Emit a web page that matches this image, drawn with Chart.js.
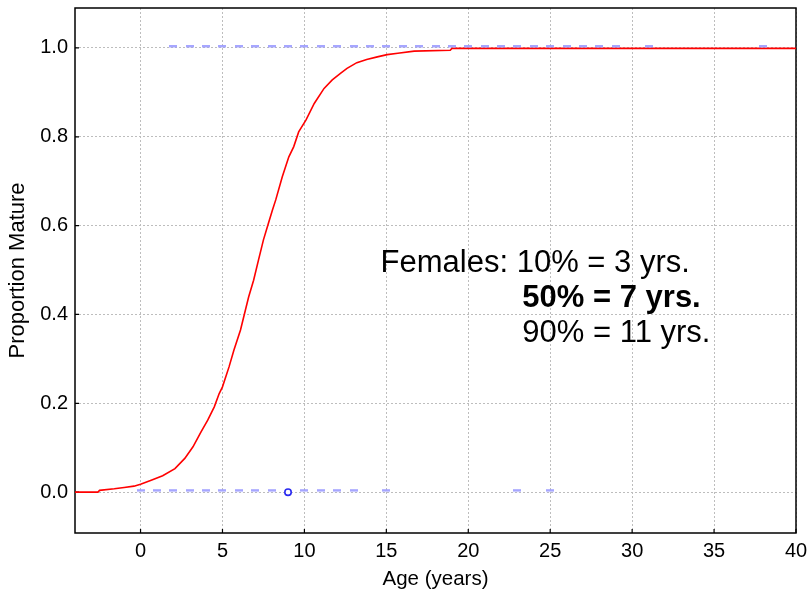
<!DOCTYPE html>
<html>
<head>
<meta charset="utf-8">
<script src="https://cdn.jsdelivr.net/npm/chart.js@4/dist/chart.umd.min.js"></script>
<style>
  html, body { margin: 0; padding: 0; background: #fff; }
  #wrap { width: 808px; height: 596px; }
</style>
</head>
<body>
<div id="wrap"><canvas id="c" width="808" height="596"></canvas></div>
<script>
// Fitted maturity curve (age in years, proportion mature)
const curveAge = [-4, -3, -2.6, -2.5, -1.6, -1.0, -0.4, 0, 0.65, 1.35, 2.1, 2.7, 3.2, 3.7, 4.1, 4.5, 4.8, 5.0,
  5.4, 5.7, 6.1, 6.4, 6.6, 6.9, 7.2, 7.5, 7.8, 8.05, 8.25, 8.65, 9.05, 9.35, 9.65, 10.1, 10.6, 11.2, 11.7,
  12.2, 12.6, 13.2, 13.8, 14.45, 15.05, 15.7, 16.7, 18.9, 19.0, 40];
const curveProp = [0, 0, 0, 0.004, 0.0075, 0.0105, 0.0135, 0.018, 0.027, 0.037, 0.053, 0.076, 0.102, 0.136,
  0.162, 0.192, 0.222, 0.237, 0.282, 0.32, 0.365, 0.41, 0.44, 0.477, 0.523, 0.568, 0.605, 0.635, 0.658,
  0.71, 0.755, 0.778, 0.811, 0.838, 0.875, 0.909, 0.928, 0.943, 0.954, 0.967, 0.974, 0.98, 0.985, 0.988,
  0.993, 0.995, 0.999, 0.999];

// Observed fish: ages of mature (1) and immature (0) individuals
const matureAges = [2, 3, 4, 5, 6, 7, 8, 9, 10, 11, 12, 13, 14, 15, 16, 17, 18, 19, 20, 21, 22, 23, 24, 25,
  26, 27, 28, 29, 31, 38];
const immatureAges = [0, 1, 2, 3, 4, 5, 6, 7, 8, 10, 11, 12, 13, 15, 23, 25];
const highlightAge = [9];
const highlightProp = [0];

// Axis ticks
const xTicks = [0, 5, 10, 15, 20, 25, 30, 35, 40];
const yTicks = [0, 0.2, 0.4, 0.6, 0.8, 1.0];

// Annotation text
const noteLines = ['Females: 10% = 3 yrs.', '50% = 7 yrs.', '90% = 11 yrs.'];

const FONT = '"Liberation Sans", Arial, sans-serif';

// Short horizontal dash used as the point marker for observations
const dash = document.createElement('canvas');
dash.width = 8; dash.height = 8;
(function () {
  const g = dash.getContext('2d');
  g.fillStyle = 'rgba(150,150,255,0.85)';
  g.fillRect(0, 1, 8, 2.5);
})();

const curveData = curveAge.map((a, i) => ({ x: a, y: curveProp[i] }));
const matureData = matureAges.map(a => ({ x: a, y: 1 }));
const immatureData = immatureAges.map(a => ({ x: a, y: 0 }));
const highlightData = highlightAge.map((a, i) => ({ x: a, y: highlightProp[i] }));

const framePlugin = {
  id: 'frame',
  beforeDatasetsDraw(chart) {
    const { ctx, chartArea: a, scales } = chart;
    ctx.save();
    ctx.strokeStyle = '#000';
    ctx.lineWidth = 1.5;
    ctx.strokeRect(a.left, a.top, a.right - a.left, a.bottom - a.top);
    ctx.lineWidth = 1.2;
    ctx.beginPath();
    scales.y.ticks.forEach(t => {
      const y = scales.y.getPixelForValue(t.value);
      ctx.moveTo(a.left, y); ctx.lineTo(a.left + 4, y);
    });
    scales.x.ticks.forEach(t => {
      const x = scales.x.getPixelForValue(t.value);
      ctx.moveTo(x, a.bottom); ctx.lineTo(x, a.bottom - 4);
    });
    ctx.stroke();
    ctx.restore();
  }
};

const notePlugin = {
  id: 'note',
  afterDatasetsDraw(chart) {
    const { ctx, scales } = chart;
    const x1 = scales.x.getPixelForValue(14.65);
    const x2 = scales.x.getPixelForValue(23.3);
    const y0 = scales.y.getPixelForValue(0.495);
    ctx.save();
    ctx.fillStyle = '#000';
    ctx.textBaseline = 'alphabetic';
    ctx.textAlign = 'left';
    ctx.font = '31px ' + FONT;
    ctx.fillText(noteLines[0], x1, y0);
    ctx.font = 'bold 31px ' + FONT;
    ctx.fillText(noteLines[1], x2, y0 + 35);
    ctx.font = '31px ' + FONT;
    ctx.fillText(noteLines[2], x2, y0 + 70);
    ctx.restore();
  }
};

new Chart(document.getElementById('c'), {
  type: 'scatter',
  data: {
    datasets: [
      {
        data: curveData, showLine: true, borderColor: '#ff0000', borderWidth: 1.6,
        pointRadius: 0, tension: 0, order: 3
      },
      {
        data: matureData, pointStyle: dash, pointRadius: 4, order: 2
      },
      {
        data: immatureData, pointStyle: dash, pointRadius: 4, order: 2
      },
      {
        data: highlightData, pointStyle: 'circle', pointRadius: 3.2, borderWidth: 1.6,
        borderColor: '#2a2af0', backgroundColor: '#ffffff', order: 1
      }
    ]
  },
  options: {
    responsive: false,
    animation: false,
    events: [],
    layout: { padding: { top: 8, right: 12, left: 0, bottom: 0 } },
    plugins: { legend: { display: false }, tooltip: { enabled: false } },
    scales: {
      x: {
        type: 'linear', min: -4, max: 40,
        afterBuildTicks: s => { s.ticks = xTicks.map(v => ({ value: v })); },
        afterFit: s => { s.height = 63; s.paddingLeft = 0; s.paddingRight = 0; },
        grid: { color: '#bdbdbd', lineWidth: 1, drawTicks: false },
        border: { display: false, dash: [2, 2] },
        ticks: {
          color: '#000', padding: 6, maxRotation: 0, autoSkip: false,
          font: { family: FONT, size: 20 },
          callback: v => String(v)
        },
        title: {
          display: true, text: 'Age (years)', color: '#000',
          font: { family: FONT, size: 20.5 }, padding: { top: 2, bottom: 4 }
        }
      },
      y: {
        type: 'linear', min: -0.092, max: 1.09,
        afterBuildTicks: s => { s.ticks = yTicks.map(v => ({ value: v })); },
        afterFit: s => { s.width = 75; s.paddingTop = 0; s.paddingBottom = 0; },
        grid: { color: '#bdbdbd', lineWidth: 1, drawTicks: false },
        border: { display: false, dash: [2, 2] },
        ticks: {
          color: '#000', padding: 7,
          font: { family: FONT, size: 20 },
          callback: v => Number(v).toFixed(1)
        },
        title: {
          display: true, text: 'Proportion Mature', color: '#000',
          font: { family: FONT, size: 22 }, padding: { top: 5, bottom: 2 }
        }
      }
    }
  },
  plugins: [framePlugin, notePlugin]
});
</script>
</body>
</html>
